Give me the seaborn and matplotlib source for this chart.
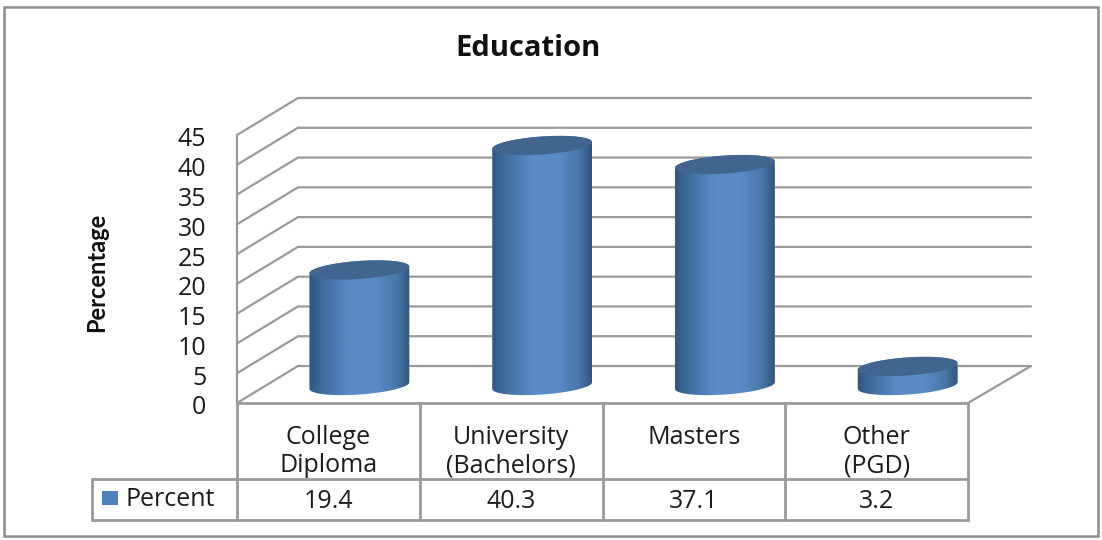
import numpy as np
import pandas as pd
import seaborn as sns
import matplotlib.pyplot as plt
from matplotlib.colors import LinearSegmentedColormap
from matplotlib.patches import Ellipse, Rectangle
from matplotlib.path import Path
from matplotlib.transforms import Affine2D, IdentityTransform

categories = ["College\nDiploma", "University\n(Bachelors)", "Masters", "Other\n(PGD)"]
percent = [19.4, 40.3, 37.1, 3.2]
value_ticks = [0, 5, 10, 15, 20, 25, 30, 35, 40, 45]

W, H = 1102, 540
GREY = "#9a9a9a"
TEXT = "#1c1c1c"
FS = 18
sns.set_theme(style="white")
plt.rcParams["font.family"] = ["Open Sans", "DejaVu Sans"]


def px_axes(fig, left, top, right, bottom, **kw):
    # axes rectangle given in picture pixels
    return fig.add_axes([left / W, 1 - bottom / H, (right - left) / W, (bottom - top) / H], **kw)


fig = plt.figure(figsize=(W / 100, H / 100), dpi=100, facecolor="white")

# overlay in pixel coords for frame, walls and data table
over = px_axes(fig, 0, 0, W, H, zorder=1)
over.set_xlim(0, W)
over.set_ylim(H, 0)
over.axis("off")
over.add_patch(Rectangle((4, 7), 1094, 529, fill=False, ec="#8c8c8c", lw=1.8))

# front plane carries the value axis
front = px_axes(fig, 237, 135, 968, 403, zorder=2)
front.patch.set_alpha(0)
front.set_xlim(-0.5, 3.5)
front.set_ylim(0, 45)
front.set_xticks([])
front.set_yticks(value_ticks)
front.tick_params(axis="y", length=0, pad=22, labelsize=FS, labelcolor=TEXT)
for lab in front.get_yticklabels():
    lab.set_transform(lab.get_transform() + Affine2D().translate(0, -2))
for name, sp in front.spines.items():
    sp.set_visible(name == "left")
    sp.set_color(GREY)
    sp.set_linewidth(1.6)

# back wall gridlines and the side wall lines joining them to the axis
dx, dy = 61, -37
for v in value_ticks:
    y = 403 - v * 268 / 45
    over.plot([237, 237 + dx, 1031], [y, y + dy, y + dy], color=GREY, lw=1.6, solid_joinstyle="miter")
over.plot([968, 1031], [403, 366], color=GREY, lw=1.6)

# data table
for y, x0 in [(403, 237), (479, 92), (520, 92)]:
    over.plot([x0, 968], [y, y], color=GREY, lw=2)
over.plot([92, 92], [479, 520], color=GREY, lw=2)
cells = np.linspace(237, 968, len(categories) + 1)
for x in cells:
    over.plot([x, x], [403, 520], color=GREY, lw=2)
for i, (cat, val) in enumerate(zip(categories, percent)):
    xc = (cells[i] + cells[i + 1]) / 2
    if "\n" in cat:
        first, second = cat.split("\n")
        over.text(xc, 437, first, ha="center", va="center", fontsize=FS, color=TEXT)
        over.text(xc, 466, second, ha="center", va="center", fontsize=FS, color=TEXT)
    else:
        over.text(xc, 437, cat, ha="center", va="center", fontsize=FS, color=TEXT)
    over.text(xc, 502, f"{val}", ha="center", va="center", fontsize=FS, color=TEXT)
over.add_patch(Rectangle((102, 491), 16, 14, fc="#4f81bd", ec="none"))
over.text(126, 499, "Percent", ha="left", va="center", fontsize=FS, color=TEXT)

over.text(528, 48, "Education", ha="center", va="center", fontsize=21, fontweight="bold", color="#111111")
over.text(97, 272, "Percentage", ha="center", va="center", rotation=90, fontsize=17, fontweight="bold",
          family=["Lato"], color="#111111")

# cylinders sit half way back on the floor
df = pd.DataFrame({"category": categories, "percent": percent})
ax = px_axes(fig, 268, 117.5, 999, 385.5, zorder=3)
sns.barplot(data=df, x="category", y="percent", width=0.546, color="#4f81bd", saturation=1, ax=ax)
ax.set_xlim(-0.5, 3.5)
ax.set_ylim(0, 45)
ax.axis("off")
ax.patch.set_alpha(0)

shade = LinearSegmentedColormap.from_list(
    "cyl", [(0, "#2f5480"), (0.2, "#4574a6"), (0.4, "#5a8bc7"), (0.65, "#5a8bc7"), (0.85, "#4a78aa"), (1, "#2e5078")]
)
tilt = np.deg2rad(4)
ew, eh = 100, 18


def ellipse_pts(cx, cy, t):
    x = ew / 2 * np.cos(t)
    y = eh / 2 * np.sin(t)
    return np.column_stack([cx + x * np.cos(tilt) - y * np.sin(tilt), cy + x * np.sin(tilt) + y * np.cos(tilt)])


for bar in ax.patches:
    x0, x1 = bar.get_x(), bar.get_x() + bar.get_width()
    top = bar.get_height()
    (dl, db), (dr, dt) = ax.transData.transform([(x0, 0), (x1, top)])
    cx = (dl + dr) / 2
    # silhouette: lower half of base ellipse, upper half of top ellipse
    lower = ellipse_pts(cx, db, np.linspace(np.pi, 2 * np.pi, 60))
    upper = ellipse_pts(cx, dt, np.linspace(0, np.pi, 60))
    outline = Path(np.vstack([lower, upper, lower[:1]]), closed=True)
    bar.set_clip_box(fig.bbox)
    bar.set_clip_path(outline, IdentityTransform())
    # extend below zero so the rounded base is covered too
    im = ax.imshow(np.linspace(0, 1, 256)[None, :], cmap=shade, aspect="auto",
                   extent=(x0 - 0.01, x1 + 0.01, -3, top + 3), zorder=3, interpolation="bilinear")
    im.set_clip_box(fig.bbox)
    im.set_clip_path(outline, IdentityTransform())
    ax.add_patch(Ellipse((cx, dt), ew, eh, angle=np.rad2deg(tilt), fc="#41658f", ec="none",
                         transform=IdentityTransform(), zorder=4, clip_on=False))
ax.set_xlim(-0.5, 3.5)
ax.set_ylim(0, 45)

fig.savefig("out.png", dpi=100)
